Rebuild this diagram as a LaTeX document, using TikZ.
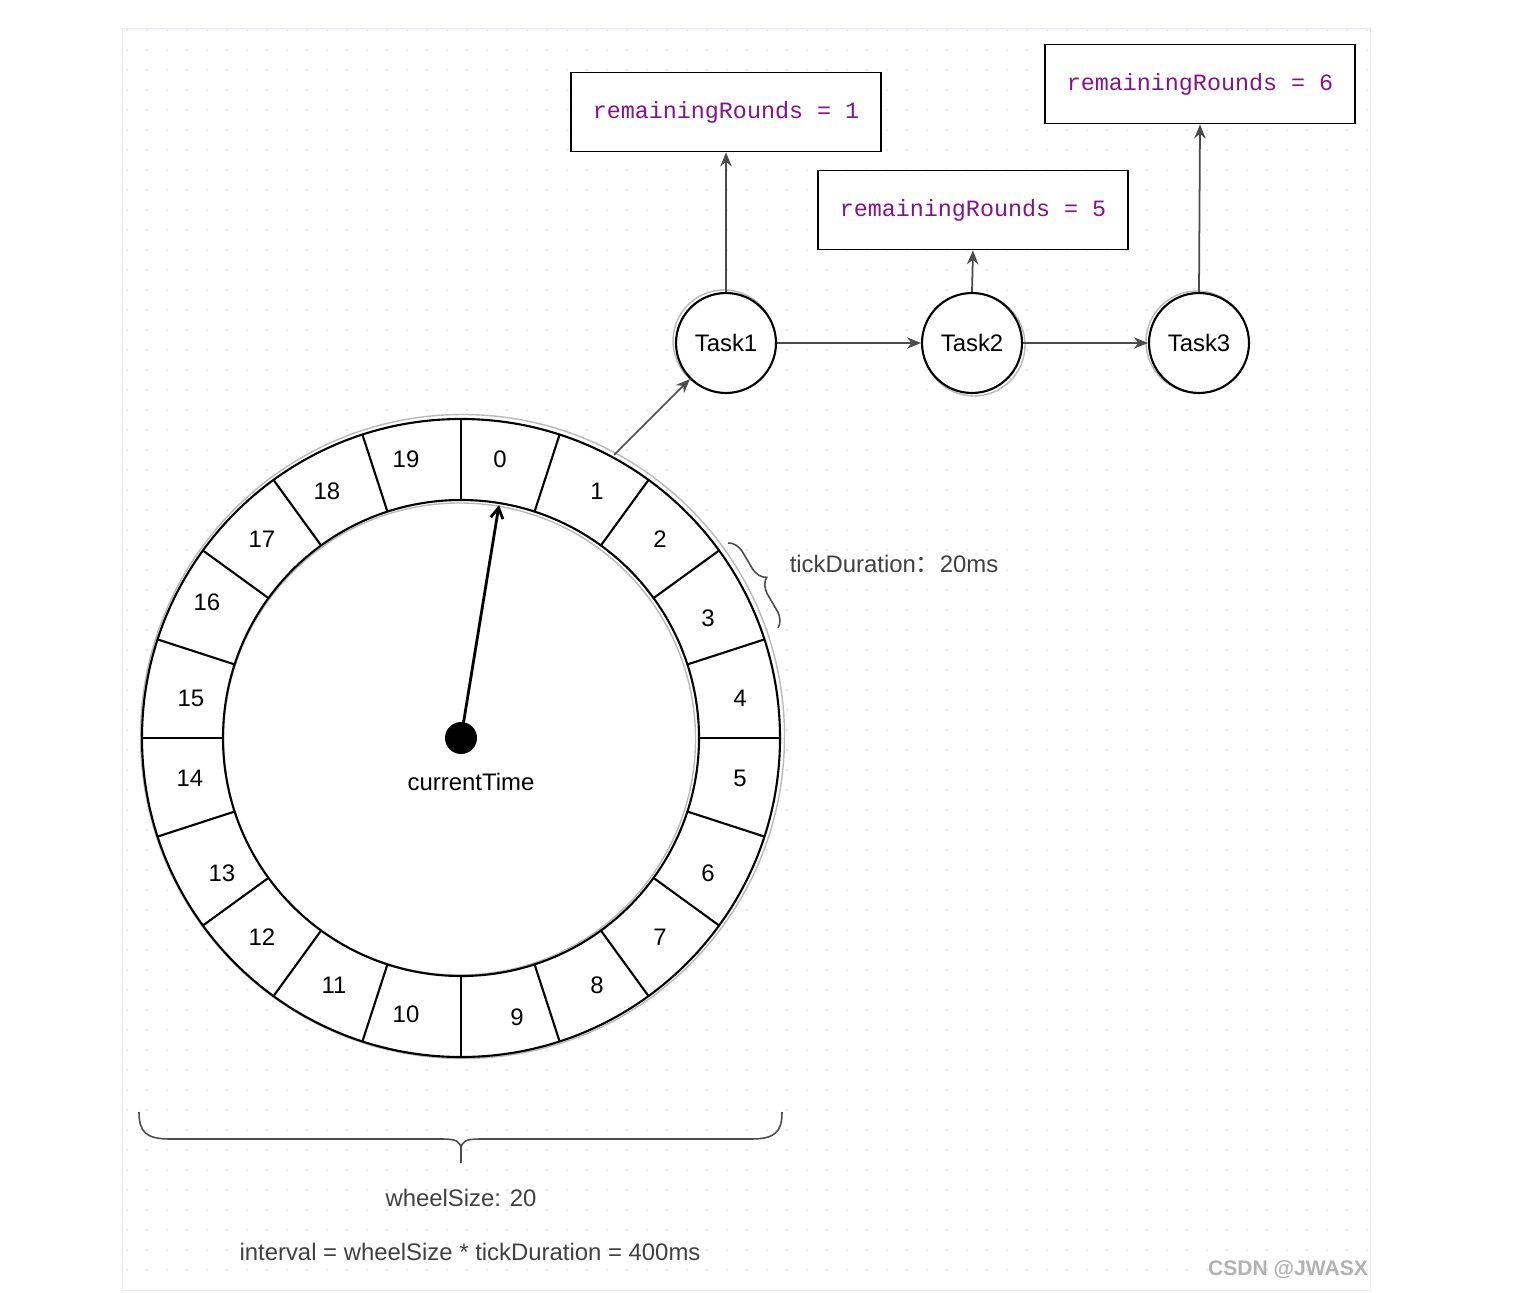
\documentclass[tikz,border=0pt]{standalone}
\usepackage{fontspec}
\setmainfont{Liberation Sans}
\setmonofont{Liberation Mono}
\newfontfamily\cjk{Noto Sans CJK SC}
\usetikzlibrary{arrows.meta,decorations.pathreplacing,calc}
\definecolor{rr}{RGB}{130,20,135}
\definecolor{gridc}{RGB}{232,234,241}
\definecolor{connc}{RGB}{75,75,75}
\begin{document}
\begin{tikzpicture}[x=0.02cm,y=-0.02cm,
  font=\fontsize{13.6}{16}\selectfont,
  task/.style={circle, draw, line width=1.2pt, minimum size=2cm, inner sep=0pt, fill=white},
  sketch/.style={draw=gray!55, line width=0.8pt},
  rbox/.style={draw, line width=1pt, fill=white, minimum width=6.2cm, minimum height=1.58cm,
    font=\ttfamily\fontsize{13.3}{16}\selectfont, text=rr},
  conn/.style={draw=connc, line width=1pt, -{Stealth[length=8pt,width=6.5pt]}},
  lbl/.style={text=black!75},
  ring/.style={line width=1.2pt},
  bracestyle/.style={draw=black!70, line width=0.9pt}]
\fill[white] (0,0) rectangle (1514,1293);
\useasboundingbox (0,0) rectangle (1514,1293);
% dotted background grid
\draw[gridc, line width=0.5pt] (122,28) rectangle (1370,1290);
\foreach \i in {0,...,62}{\foreach \j in {0,...,62}{\fill[gridc] ({127+20*\i},{30+20*\j}) circle (1.6);}}
% wheel
\begin{scope}[shift={(461,738)}]
  \fill[white] (0,0) circle (321);
  \draw[sketch] (1.5,-1.5) circle (322);
  \draw[ring] (0,0) circle (319);
  \draw[sketch] (-1.5,1) circle (236);
  \draw[ring] (0,0) circle (238);
  \foreach \a in {0,18,...,342} \draw[ring] (\a:238) -- (\a:319);
\end{scope}
% slot numbers
\foreach \k/\x/\y in {0/500/459, 1/597/491, 2/660/539, 3/708/618, 4/740/698,
  5/740/778, 6/708/873, 7/660/937, 8/597/985, 9/517/1017, 10/406/1014,
  11/334/985, 12/262/937, 13/222/873, 14/190/778, 15/191/698, 16/207/602,
  17/262/539, 18/327/491, 19/406/459}
  \node (s\k) at (\x,\y) {\k};
% hand
\node[circle, fill=black, minimum size=0.64cm, inner sep=0pt] (ct) at (461,738) {};
\coordinate (hp) at (499,505);
\draw[line width=1.6pt, -{Straight Barb[length=6pt,width=7pt]}] (ct.center) -- (hp);
\node (cttext) at (471,782) {currentTime};
% tasks
\draw[sketch] (724,341) circle (51);
\draw[sketch] (974,345) circle (51);
\draw[sketch] (1197,342) circle (51);
\node[task] (t1) at (726,343) {Task1};
\node[task] (t2) at (972,343) {Task2};
\node[task] (t3) at (1199,343) {Task3};
% boxes
\node[rbox] (b1) at (726,112) {remainingRounds = 1};
\node[rbox] (b2) at (973,210) {remainingRounds = 5};
\node[rbox] (b3) at (1200,84) {remainingRounds = 6};
% connectors
\coordinate (w1) at (614,455);
\draw[conn] (w1) -- (t1);
\draw[conn] (t1) -- (t2);
\draw[conn] (t2) -- (t3);
\draw[conn] (t1.north) -- (b1.south);
\draw[conn] (t2.north) -- (b2.south);
\draw[conn] (t3.north) -- (b3.south);
% braces
\draw[bracestyle, decorate, decoration={brace, amplitude=0.32cm}] (728,543) -- (778,628);
\draw[bracestyle] (139,1112) .. controls (139,1132) and (146,1139) .. (170,1139) -- (442,1139)
  .. controls (456,1139) and (461,1141) .. (461,1150) -- (461,1163);
\draw[bracestyle] (782,1112) .. controls (782,1132) and (775,1139) .. (751,1139) -- (480,1139)
  .. controls (466,1139) and (461,1141) .. (461,1150);
% labels
\node[lbl] (td) at (894,564) {tickDuration{\cjk ：}20ms};
\node[lbl] (ws) at (461,1198) {wheelSize: 20};
\node[lbl] (iv) at (470,1252) {interval = wheelSize * tickDuration = 400ms};
\node[text=black!30, font=\bfseries\fontsize{12}{14}\selectfont] (wm) at (1288,1270) {CSDN @JWASX};
\end{tikzpicture}
\end{document}
